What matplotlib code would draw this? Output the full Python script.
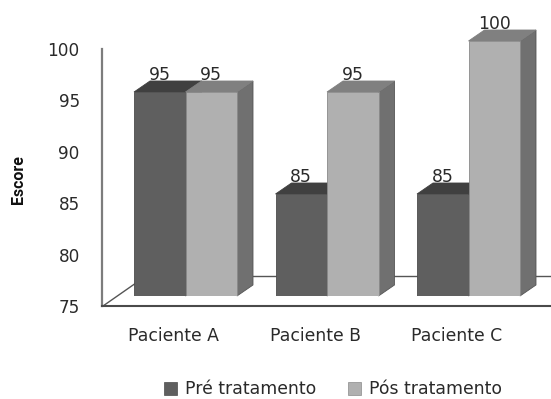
import matplotlib
matplotlib.use("Agg")
import matplotlib.pyplot as plt
from matplotlib.patches import Patch
from matplotlib.lines import Line2D

patients = ["Paciente A", "Paciente B", "Paciente C"]
pre_scores = [95, 85, 85]
post_scores = [95, 95, 100]
y_ticks = [75, 80, 85, 90, 95, 100]
series_names = ["Pré tratamento", "Pós tratamento"]

W, H = 551, 399
plt.rcParams["font.family"] = "DejaVu Sans"
fig = plt.figure(figsize=(W / 100, H / 100), dpi=100, facecolor="white")

def rect(x0, ytop, x1, ybot):
    return [x0 / W, 1 - ybot / H, (x1 - x0) / W, (ybot - ytop) / H]

BAND = 141.5
X0 = 173.5
xlim = ((102 - X0) / BAND, (551 - X0) / BAND)

# Axis frame (tick scale)
ax = fig.add_axes(rect(102, 49, 551, 306))
ax.set_xlim(*xlim)
ax.set_ylim(75, 100)
ax.set_yticks(y_ticks)
ax.set_xticks(range(len(patients)))
ax.set_xticklabels(patients, fontsize=12.4, color="#2a2a2a")
ax.tick_params(axis="both", length=0, colors="#2a2a2a")
ax.tick_params(axis="y", labelsize=12.2, pad=16)
ax.tick_params(axis="x", pad=15)
for s in ("top", "right"):
    ax.spines[s].set_visible(False)
ax.spines["left"].set_color("#7d7d7d")
ax.spines["left"].set_linewidth(1.6)
ax.spines["bottom"].set_color("#4a4a4a")
ax.spines["bottom"].set_linewidth(1.5)
ax.set_ylabel("Escore", fontsize=11.5, fontweight="bold", family="Roboto",
              color="#111111", labelpad=0)
ax.yaxis.set_label_coords((26 - 102) / 449, (306 - 180) / 257)

# Floor lines, placed in axes fractions
fx = lambda px: (px - 102) / 449
fy = lambda py: (306 - py) / 257
ax.add_line(Line2D([fx(103), fx(146)], [fy(306), fy(276)], transform=ax.transAxes,
                   color="#555555", lw=1))
ax.add_line(Line2D([fx(146), fx(551)], [fy(276), fy(276)], transform=ax.transAxes,
                   color="#555555", lw=1))

# Bar plane
bx = fig.add_axes(rect(114, 41, 563, 296))
bx.set_xlim(*xlim)
bx.set_ylim(75, 100)
bx.axis("off")
bx.patch.set_alpha(0)
bx.set_clip_on(False)

bw = 51.5 / BAND
dx = 16 / BAND
dy = 11 / (255 / 25)

def draw(vals, off, front, top, side, z):
    for i, v in enumerate(vals):
        l = i + off
        r = l + bw
        bx.fill([r, r + dx, r + dx, r], [75, 75 + dy, v + dy, v], color=side,
                ec="#555555", lw=0.6, zorder=z, clip_on=False)
        bx.fill([l, l + dx, r + dx, r], [v, v + dy, v + dy, v], color=top,
                ec=top, lw=0.6, zorder=z, clip_on=False)
        bx.bar(l, v - 75, bw, bottom=75, align="edge", color=front,
               ec="#8a8a8a" if front != "#5f5f5f" else "#4c4c4c", lw=0.6, zorder=z + 0.1)
        bx.annotate(str(v), (l + bw / 2, v + dy), xytext=(0, -2), textcoords="offset points",
                    ha="center", va="bottom", fontsize=12.4, color="#2a2a2a", zorder=10,
                    annotation_clip=False)

draw(pre_scores, -bw, "#5f5f5f", "#404040", "#5a5a5a", 3)
draw(post_scores, 0, "#b0b0b0", "#808080", "#707070", 4)

handles = [Patch(fc="#5f5f5f", ec="#4c4c4c", lw=0.5), Patch(fc="#b0b0b0", ec="#8a8a8a", lw=0.5)]
fig.legend(handles, series_names, loc="center", bbox_to_anchor=(333 / W, 1 - 389.5 / H),
           ncol=2, frameon=False, fontsize=12.4, handlelength=0.72, handleheight=0.72,
           handletextpad=0.45, columnspacing=1.9, labelcolor="#2a2a2a",
           borderpad=0, borderaxespad=0)

fig.savefig("out.png", dpi=100)
